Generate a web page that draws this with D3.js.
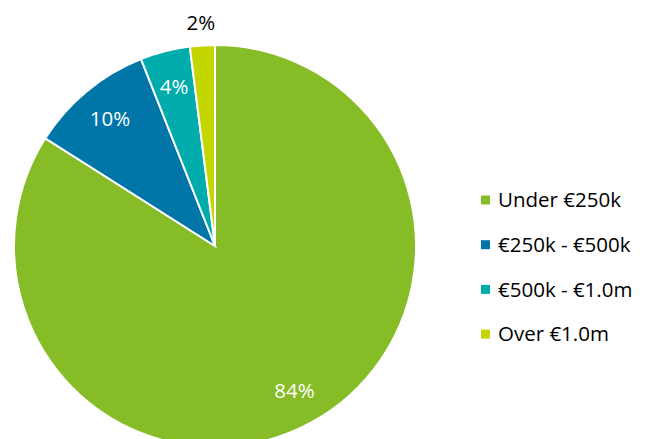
<!DOCTYPE html>
<html>
<head>
<meta charset="utf-8">
<script src="https://cdn.jsdelivr.net/npm/d3@7"></script>
<style>
  body { margin: 0; background: #fff; }
  text { font-family: "Open Sans", sans-serif; }
</style>
</head>
<body>
<div id="chart"></div>
<script>
// data
var categories = ["Under €250k", "€250k - €500k", "€500k - €1.0m", "Over €1.0m"];
var shares     = [84, 10, 4, 2];
var colours    = ["#86bc25", "#0076a8", "#00abab", "#c4d600"];

var width = 646, height = 439;
var cx = 215, cy = 246, radius = 201;

var svg = d3.select("#chart").append("svg")
    .attr("width", width)
    .attr("height", height);

var g = svg.append("g")
    .attr("transform", "translate(" + cx + "," + cy + ")");

var color = d3.scaleOrdinal().domain(categories).range(colours);

var pie = d3.pie().sort(null).value(function(d) { return d.value; });
var slices = pie(categories.map(function(c, i) { return {name: c, value: shares[i]}; }));

var arc = d3.arc().innerRadius(0).outerRadius(radius);
var labelArc = d3.arc().innerRadius(radius * 0.82).outerRadius(radius * 0.82);
var outerArc = d3.arc().innerRadius(radius * 1.115).outerRadius(radius * 1.115);

g.selectAll(".slice")
    .data(slices)
    .enter().append("path")
    .attr("class", "slice")
    .attr("d", arc)
    .style("fill", function(d) { return color(d.data.name); })
    .style("stroke", "#fff")
    .style("stroke-width", "2px");

g.selectAll(".label")
    .data(slices)
    .enter().append("text")
    .attr("class", "label")
    .attr("transform", function(d) {
        var small = d.data.value < 3;
        return "translate(" + (small ? outerArc : labelArc).centroid(d) + ")";
    })
    .attr("text-anchor", "middle")
    .attr("dy", "0.35em")
    .style("font-size", "20.5px")
    .style("fill", function(d) { return d.data.value < 3 ? "#000" : "#fff"; })
    .text(function(d) { return d.data.value + "%"; });

// legend
var legend = svg.append("g")
    .attr("transform", "translate(481,200)");

var item = legend.selectAll(".item")
    .data(categories)
    .enter().append("g")
    .attr("class", "item")
    .attr("transform", function(d, i) { return "translate(0," + (i * 44.7) + ")"; });

item.append("rect")
    .attr("x", 0)
    .attr("y", -4.5)
    .attr("width", 9)
    .attr("height", 9)
    .style("fill", function(d) { return color(d); });

item.append("text")
    .attr("x", 17)
    .attr("dy", "0.35em")
    .style("font-size", "20.5px")
    .style("fill", "#000")
    .text(function(d) { return d; });
</script>
</body>
</html>
